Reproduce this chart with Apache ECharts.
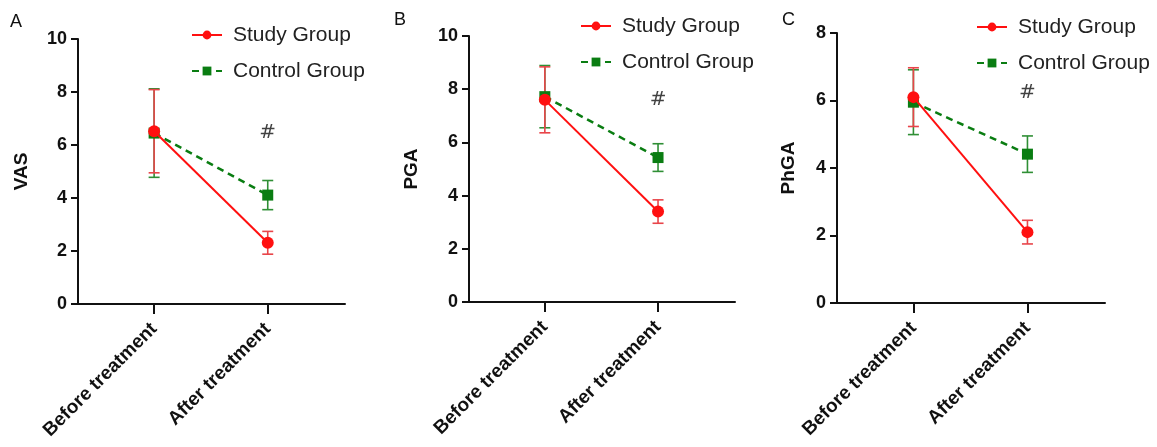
<!DOCTYPE html>
<html>
<head>
<meta charset="utf-8">
<script src="https://cdn.jsdelivr.net/npm/echarts@6/dist/echarts.min.js"></script>
<style>
html,body{margin:0;padding:0;background:#fff;}
#main{width:1157px;height:447px;}
</style>
</head>
<body>
<div id="main"></div>
<script>
const categories = ['Before treatment', 'After treatment'];
const seriesNames = ['Study Group', 'Control Group'];

const vasStudy = [6.52, 2.31];
const vasStudyErr = [1.57, 0.43];
const vasControl = [6.45, 4.11];
const vasControlErr = [1.67, 0.55];

const pgaStudy = [7.6, 3.4];
const pgaStudyErr = [1.24, 0.44];
const pgaControl = [7.72, 5.43];
const pgaControlErr = [1.17, 0.52];

const phgaStudy = [6.1, 2.1];
const phgaStudyErr = [0.87, 0.35];
const phgaControl = [5.95, 4.41];
const phgaControlErr = [0.96, 0.54];

const yNames = ['VAS', 'PGA', 'PhGA'];
const yMax = [10, 10, 8];
const panelLetters = ['A', 'B', 'C'];
const sigMark = '#';
const sigMarkY = [6.45, 7.59, 6.23];

const panels = [
  {study: vasStudy, studyErr: vasStudyErr, control: vasControl, controlErr: vasControlErr},
  {study: pgaStudy, studyErr: pgaStudyErr, control: pgaControl, controlErr: pgaControlErr},
  {study: phgaStudy, studyErr: phgaStudyErr, control: phgaControl, controlErr: phgaControlErr}
];

const FONT = 'Liberation Sans, Arial, sans-serif';
const RED = '#ff1010';
const RED_ERR = '#e8454a';
const GREEN = '#0a7d12';
const GREEN_ERR = '#2f8f35';

const grids = [
  {left: 78, top: 39, width: 267, height: 265},
  {left: 469, top: 36, width: 266, height: 266},
  {left: 837, top: 33, width: 268, height: 270}
];
const nameGaps = [47, 48, 39];
const legendPos = [
  {left: 186, top: 19},
  {left: 575, top: 10},
  {left: 971, top: 11}
];
const letterPos = [
  {left: 10, top: 13},
  {left: 394, top: 11},
  {left: 782, top: 11}
];

function errData(vals, errs) {
  return vals.map((v, i) => [i, v - errs[i], v + errs[i]]);
}
function errSeries(idx, vals, errs, color) {
  return {
    type: 'custom',
    xAxisIndex: idx, yAxisIndex: idx,
    z: 1,
    silent: true,
    data: errData(vals, errs),
    encode: {x: 0, y: [1, 2]},
    renderItem: function (params, api) {
      const x = api.value(0);
      const lo = api.coord([x, api.value(1)]);
      const hi = api.coord([x, api.value(2)]);
      const w = 5.5;
      const style = {stroke: color, lineWidth: 1.6};
      return {
        type: 'group',
        children: [
          {type: 'line', shape: {x1: lo[0], y1: lo[1], x2: hi[0], y2: hi[1]}, style: style},
          {type: 'line', shape: {x1: lo[0] - w, y1: lo[1], x2: lo[0] + w, y2: lo[1]}, style: style},
          {type: 'line', shape: {x1: hi[0] - w, y1: hi[1], x2: hi[0] + w, y2: hi[1]}, style: style}
        ]
      };
    }
  };
}

const option = {
  animation: false,
  backgroundColor: '#fff',
  textStyle: {fontFamily: FONT},
  grid: grids.map(g => Object.assign({containLabel: false}, g)),
  xAxis: grids.map((g, i) => ({
    type: 'value',
    gridIndex: i,
    min: -0.67,
    max: 1.68,
    splitLine: {show: false},
    axisLine: {show: true, onZero: false, lineStyle: {color: '#111', width: 2}},
    axisTick: {show: true, customValues: [0, 1], length: 10, lineStyle: {color: '#111', width: 2}},
    axisLabel: {
      show: true,
      customValues: [0, 1],
      formatter: v => categories[Math.round(v)],
      rotate: 45,
      margin: 22,
      fontSize: 19,
      fontWeight: 'bold',
      color: '#111',
      fontFamily: FONT
    }
  })),
  yAxis: grids.map((g, i) => ({
    type: 'value',
    gridIndex: i,
    min: 0,
    max: yMax[i],
    interval: 2,
    name: yNames[i],
    nameLocation: 'middle',
    nameGap: nameGaps[i],
    nameRotate: 90,
    nameTextStyle: {fontSize: 19, fontWeight: 'bold', color: '#111', fontFamily: FONT},
    splitLine: {show: false},
    axisLine: {show: true, onZero: false, lineStyle: {color: '#111', width: 2}},
    axisTick: {show: true, length: 7, lineStyle: {color: '#111', width: 2}},
    axisLabel: {fontSize: 18, fontWeight: 'bold', color: '#111', margin: 11, fontFamily: FONT}
  })),
  legend: legendPos.map(p => ({
    left: p.left, top: p.top,
    orient: 'vertical',
    itemWidth: 30,
    itemHeight: 11,
    itemGap: 14,
    data: seriesNames,
    textStyle: {fontSize: 21, color: '#222', fontFamily: FONT, lineHeight: 22, padding: [0, 0, 0, 6]}
  })),
  graphic: letterPos.map((p, i) => ({
    type: 'text', left: p.left, top: p.top,
    style: {text: panelLetters[i], font: '18px ' + FONT, fill: '#111'}
  })),
  series: []
};

panels.forEach((p, i) => {
  option.series.push(errSeries(i, p.control, p.controlErr, GREEN_ERR));
  option.series.push(errSeries(i, p.study, p.studyErr, RED_ERR));
  option.series.push({
    name: seriesNames[1],
    type: 'line',
    xAxisIndex: i, yAxisIndex: i,
    z: 3,
    data: p.control.map((v, k) => [k, v]),
    symbol: 'rect',
    symbolSize: 11,
    lineStyle: {color: GREEN, width: 2.5, type: [7, 5]},
    itemStyle: {color: GREEN}
  });
  option.series.push({
    name: seriesNames[0],
    type: 'line',
    xAxisIndex: i, yAxisIndex: i,
    z: 4,
    data: p.study.map((v, k) => [k, v]),
    symbol: 'circle',
    symbolSize: 12,
    lineStyle: {color: RED, width: 2},
    itemStyle: {color: RED}
  });
  option.series.push({
    type: 'scatter',
    xAxisIndex: i, yAxisIndex: i,
    silent: true,
    symbolSize: 1,
    itemStyle: {color: 'rgba(0,0,0,0)'},
    data: [[1, sigMarkY[i]]],
    label: {show: true, position: 'inside', formatter: sigMark, fontSize: 20, color: '#111', fontFamily: 'DejaVu Sans, sans-serif'}
  });
});

const chart = echarts.init(document.getElementById('main'), null, {renderer: 'canvas'});
chart.setOption(option);
</script>
</body>
</html>
